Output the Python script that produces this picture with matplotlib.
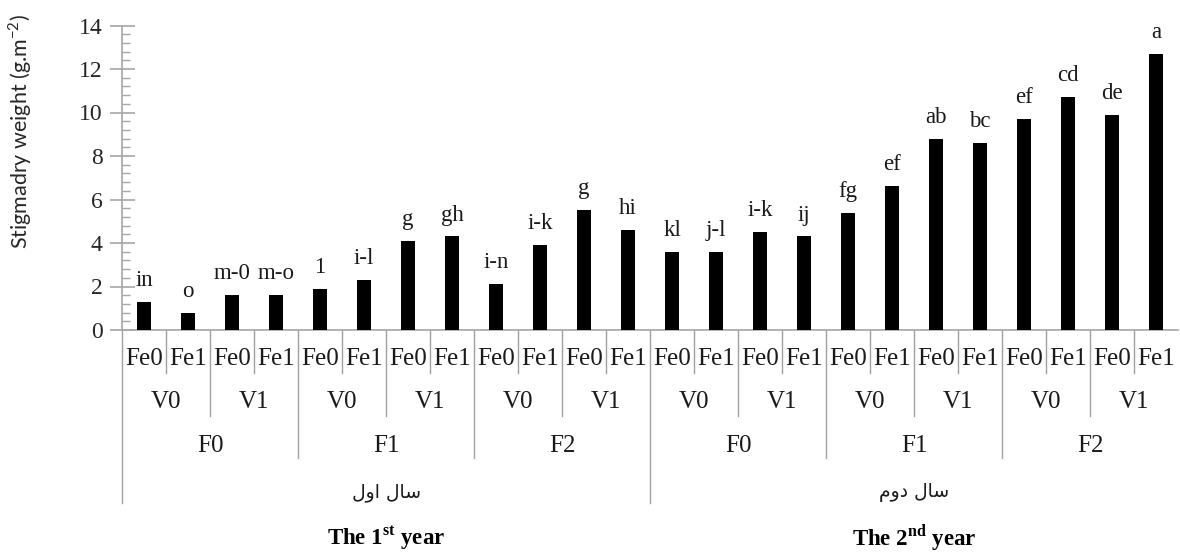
import matplotlib
matplotlib.use("Agg")
import matplotlib.pyplot as plt
import matplotlib.transforms as mtransforms
from matplotlib.ticker import MultipleLocator

# ---------------- data ----------------
values = [1.3, 0.8, 1.6, 1.6, 1.9, 2.3, 4.1, 4.3, 2.1, 3.9, 5.5, 4.6,
          3.6, 3.6, 4.5, 4.3, 5.4, 6.6, 8.8, 8.6, 9.7, 10.7, 9.9, 12.7]
letters = ["in", "o", "m-0", "m-o", "1", "i-l", "g", "gh", "i-n", "i-k", "g", "hi",
           "kl", "j-l", "i-k", "ij", "fg", "ef", "ab", "bc", "ef", "cd", "de", "a"]
fe_labels = ["Fe0", "Fe1"] * 12
v_labels = ["V0", "V1"] * 6
f_labels = ["F0", "F1", "F2"] * 2
# Persian year labels (presentation forms, visual order) : "سال اول", "سال دوم"
year_fa = ["\uFEDD\uFEED\uFE8D \uFEDD\uFE8E\uFEB3",
           "\uFEE1\uFEED\uFEA9 \uFEDD\uFE8E\uFEB3"]
year_en = [r"The 1$^{\mathbf{st}}$ year", r"The 2$^{\mathbf{nd}}$ year"]
y_label = r"Stigmadry weight (g.m$^{\mathsf{-2}}$)"
y_ticks = [0, 2, 4, 6, 8, 10, 12, 14]

# ---------------- style ----------------
plt.rcParams["font.family"] = ["Liberation Serif", "DejaVu Sans"]
plt.rcParams["mathtext.fontset"] = "custom"
plt.rcParams["mathtext.rm"] = "Liberation Serif"
plt.rcParams["mathtext.bf"] = "Liberation Serif:bold"
plt.rcParams["mathtext.sf"] = "Lato"

W, H = 1180, 553
fig = plt.figure(figsize=(W / 100, H / 100), dpi=100)
ax_left, ax_right, ax_bottom, ax_top = 122, 1178, 330, 25.5
ax = fig.add_axes([ax_left / W, 1 - ax_bottom / H,
                   (ax_right - ax_left) / W, (ax_bottom - ax_top) / H])

n = len(values)
x = list(range(n))
ax.bar(x, values, width=0.31, color="black", zorder=3)
ax.set_xlim(-0.5, n - 0.5)
ax.set_ylim(0, 14)

for xi, v, lab in zip(x, values, letters):
    ax.annotate(lab, (xi, v), xytext=(0, 11.5), textcoords="offset points",
                ha="center", va="baseline", fontsize=16.5, color="#1a1a1a",
                family="Liberation Serif")

gray = "#a6a6a6"
for s in ["top", "right"]:
    ax.spines[s].set_visible(False)
ax.spines["left"].set_color(gray)
ax.spines["bottom"].set_color(gray)
ax.spines["left"].set_linewidth(1.2)
ax.spines["bottom"].set_linewidth(1.2)

ax.set_yticks(y_ticks)
ax.set_yticklabels([str(t) for t in y_ticks], family="Liberation Serif")
ax.yaxis.set_minor_locator(MultipleLocator(0.4))
ax.tick_params(axis="y", which="major", direction="inout", length=18, width=1.2,
               color=gray, labelsize=17, labelcolor="#262626", pad=5)
ax.tick_params(axis="y", which="minor", direction="in", length=6, width=1.0, color=gray)
ax.set_xticks([])

# ---------------- hierarchical category axis ----------------
trans = mtransforms.blended_transform_factory(ax.transData, fig.transFigure)

def fy(p):
    return 1 - p / H

row_fe, row_v, row_f, row_fa, row_en = 359, 402, 446, 492, 545
txt_col = "#1a1a1a"
for i, lab in enumerate(fe_labels):
    ax.text(i, fy(row_fe), lab, transform=trans, ha="center", va="center",
            fontsize=18, color=txt_col, clip_on=False)
for j, lab in enumerate(v_labels):
    ax.text(2 * j + 0.5, fy(row_v), lab, transform=trans, ha="center", va="center",
            fontsize=18, color=txt_col, clip_on=False)
for k, lab in enumerate(f_labels):
    ax.text(4 * k + 1.5, fy(row_f), lab, transform=trans, ha="center", va="center",
            fontsize=18, color=txt_col, clip_on=False)
for m, lab in enumerate(year_fa):
    ax.text(12 * m + 5.5, fy(row_fa), lab, transform=trans, ha="center", va="center",
            fontsize=13.5, color=txt_col, family="DejaVu Sans", clip_on=False)
for m, lab in enumerate(year_en):
    ax.text(12 * m + 5.5, fy(row_en), lab, transform=trans, ha="center", va="baseline",
            fontsize=16.5, fontweight="bold", color="black", clip_on=False)

line_col = "#a0a0a0"
for b in range(0, n):
    xb = b - 0.5
    if b % 12 == 0:
        bottom = 503
    elif b % 4 == 0:
        bottom = 458
    elif b % 2 == 0:
        bottom = 416
    else:
        bottom = 373
    ax.plot([xb, xb], [fy(ax_bottom), fy(bottom)], transform=trans,
            color=line_col, lw=1.0, clip_on=False)

fig.text(20 / W, 1 - 131 / H, y_label, rotation=90, ha="center", va="center",
         fontsize=15.5, family="Lato", color="#262626")

fig.savefig("out.png", dpi=100)
